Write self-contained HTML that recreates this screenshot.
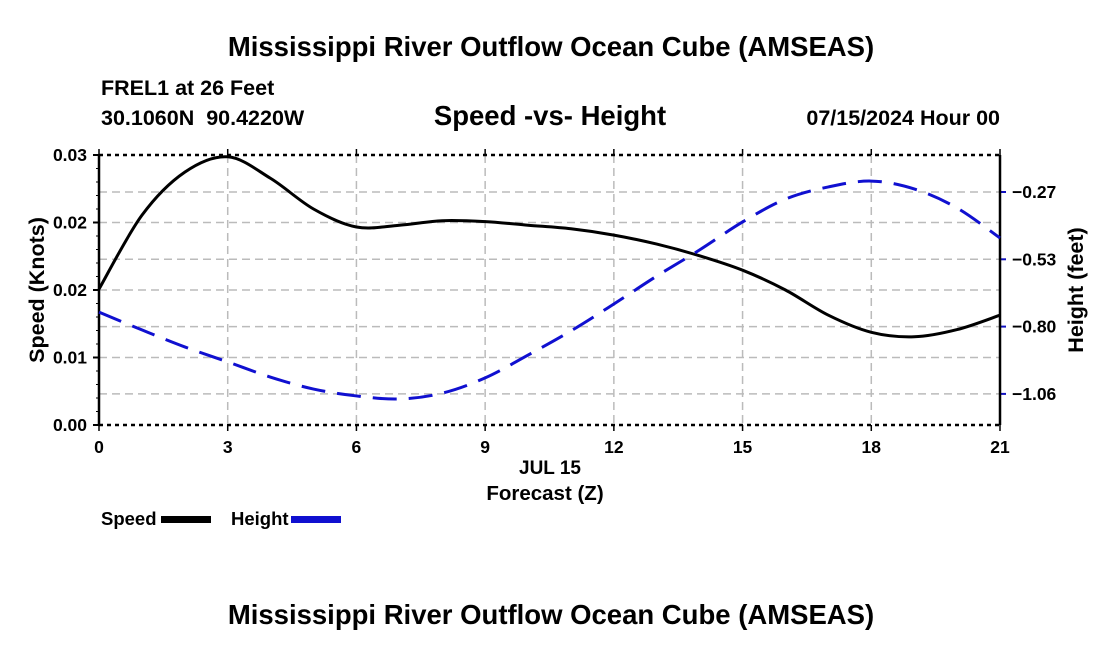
<!DOCTYPE html>
<html><head><meta charset="utf-8"><style>
html,body{margin:0;padding:0;background:#fff;}
svg{display:block;font-family:"Liberation Sans",Arial,sans-serif;font-weight:bold;}
</style></head><body>
<svg id="chart" width="1100" height="650" viewBox="0 0 1100 650">
<text x="551" y="56" font-size="27.5" text-anchor="middle">Mississippi River Outflow Ocean Cube (AMSEAS)</text>
<text x="101" y="95" font-size="21.5">FREL1 at 26 Feet</text>
<text x="101" y="125" font-size="21.5" xml:space="preserve">30.1060N  90.4220W</text>
<text x="550" y="125" font-size="27.5" text-anchor="middle">Speed -vs- Height</text>
<text x="1000" y="125" font-size="21.5" text-anchor="end">07/15/2024 Hour 00</text>
<g id="grid"></g>
<g id="axes"></g>
<g id="series"></g>
<text x="550" y="474" font-size="19" text-anchor="middle">JUL 15</text>
<text x="545" y="500" font-size="20.5" text-anchor="middle">Forecast (Z)</text>
<text transform="translate(44,290) rotate(-90)" font-size="21.5" text-anchor="middle">Speed (Knots)</text>
<text transform="translate(1083,290) rotate(-90)" font-size="21.5" text-anchor="middle">Height (feet)</text>
<g>
<text x="101" y="525" font-size="18.5">Speed</text>
<rect x="161" y="516" width="50" height="7" fill="#000"/>
<text x="231" y="525" font-size="18.5">Height</text>
<rect x="291" y="516" width="50" height="7" fill="#1010d0"/>
</g>
<text x="551" y="624" font-size="27.5" text-anchor="middle">Mississippi River Outflow Ocean Cube (AMSEAS)</text>
</svg>
<script>
const hours = [0,1,2,3,4,5,6,7,8,9,10,11,12,13,14,15,16,17,18,19,20,21];
const speed = [0.0151,0.0233,0.0281,0.0298,0.0274,0.0240,0.0220,0.0222,0.0227,0.0226,0.0222,0.0218,0.0211,0.0201,0.0188,0.0172,0.0150,0.0122,0.0103,0.0098,0.0106,0.0122];
const height = [-0.743,-0.813,-0.880,-0.939,-0.999,-1.046,-1.073,-1.085,-1.062,-1.002,-0.912,-0.817,-0.711,-0.601,-0.498,-0.388,-0.298,-0.250,-0.227,-0.258,-0.333,-0.451];
const xTicks = [0,3,6,9,12,15,18,21];
const speedTicks = [0,0.0075,0.015,0.0225,0.03];
const speedTickLabels = ["0.00","0.01","0.02","0.02","0.03"];
const heightTicks = [-0.27,-0.535,-0.80,-1.065];
const heightTickLabels = ["\u22120.27","\u22120.53","\u22120.80","\u22121.06"];

const NS="http://www.w3.org/2000/svg";
const X0=99,X1=1000,Y0=425,Y1=155;
const xs=h=>X0+(h-0)/21*(X1-X0);
const ys=v=>Y0-v/0.03*(Y0-Y1);
const yh=v=>192-(v+0.27)/0.265*67.3;
function mk(tag,attrs,parent){const e=document.createElementNS(NS,tag);for(const k in attrs)e.setAttribute(k,attrs[k]);parent.appendChild(e);return e;}
const grid=document.getElementById('grid'),axes=document.getElementById('axes'),series=document.getElementById('series');

xTicks.forEach(t=>{
  const x=xs(t);
  if(t>0&&t<21){const l=mk('line',{x1:x,x2:x,y1:Y1,y2:Y0,stroke:'#bbb','stroke-width':1.5,'stroke-dasharray':'8,5'},grid);
  
  }
  const tk=mk('line',{x1:x,x2:x,y1:Y0,y2:Y0+6,stroke:'#000','stroke-width':1.5},axes);
  
  
  const tk2=mk('line',{x1:x,x2:x,y1:Y1,y2:Y1-6,stroke:'#000','stroke-width':1.5},axes);
  
  
  const tx=mk('text',{x:x,y:453,'font-size':17.5,'text-anchor':'middle'},axes);tx.textContent=t;
  
  
});
speedTicks.forEach((v,i)=>{
  const y=ys(v);
  if(i>0&&i<speedTicks.length-1){const l=mk('line',{x1:X0,x2:X1,y1:y,y2:y,stroke:'#bbb','stroke-width':1.5,'stroke-dasharray':'8,5'},grid);
  
  }
  const tk=mk('line',{x1:X0-6,x2:X0,y1:y,y2:y,stroke:'#000','stroke-width':2},axes);
  
  
  const tx=mk('text',{x:X0-12,y:y+6,'font-size':17.5,'text-anchor':'end'},axes);tx.textContent=speedTickLabels[i];
  
  
});
for(let v=0;v<=0.03;v+=0.0075/5){const y=ys(v);const m=mk('line',{x1:X0-3,x2:X0,y1:y,y2:y,stroke:'#000','stroke-width':1},axes);
  
  }
heightTicks.forEach((v,i)=>{
  const y=yh(v);
  const l=mk('line',{x1:X0,x2:X1,y1:y,y2:y,stroke:'#bbb','stroke-width':1.5,'stroke-dasharray':'8,5'},grid);
  
  
  const tk=mk('line',{x1:X1,x2:X1+6,y1:y,y2:y,stroke:'#1010c0','stroke-width':2},axes);
  
  
  const tx=mk('text',{x:X1+12,y:y+6,'font-size':17.5},axes);tx.textContent=heightTickLabels[i];
  
  
});
const frame=[
 ['top-axis',{x1:X0,x2:X1,y1:Y1,y2:Y1,stroke:'#000','stroke-width':2.5,'stroke-dasharray':'4,4'}],
 ['bottom-axis',{x1:X0,x2:X1,y1:Y0,y2:Y0,stroke:'#000','stroke-width':2.5,'stroke-dasharray':'4,4'}],
 ['left-axis',{x1:X0,x2:X0,y1:Y1,y2:Y0,stroke:'#000','stroke-width':2.5}],
 ['right-axis',{x1:X1,x2:X1,y1:Y1,y2:Y0,stroke:'#000','stroke-width':2.5}]];
frame.forEach(f=>{const e=mk('line',f[1],axes);
  
  });
function smooth(pts){let d=`M${pts[0][0]},${pts[0][1]}`;
  for(let i=0;i<pts.length-1;i++){const p0=pts[Math.max(0,i-1)],p1=pts[i],p2=pts[i+1],p3=pts[Math.min(pts.length-1,i+2)];
    d+=` C${p1[0]+(p2[0]-p0[0])/6},${p1[1]+(p2[1]-p0[1])/6} ${p2[0]-(p3[0]-p1[0])/6},${p2[1]-(p3[1]-p1[1])/6} ${p2[0]},${p2[1]}`;}
  return d;}
const sp=mk('path',{d:smooth(hours.map((h,i)=>[xs(h),ys(speed[i])])),fill:'none',stroke:'#000','stroke-width':3},series);


const hp=mk('path',{d:smooth(hours.map((h,i)=>[xs(h),yh(height[i])])),fill:'none',stroke:'#1010d0','stroke-width':3,'stroke-dasharray':'24,12'},series);


</script>
</body></html>
